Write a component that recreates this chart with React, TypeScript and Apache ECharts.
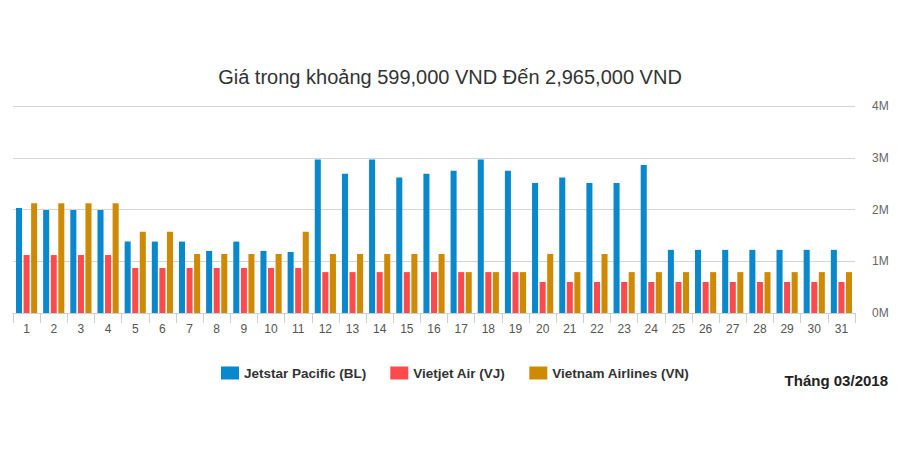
import React, { useEffect, useRef } from "react";
import * as echarts from "echarts";

const days = Array.from({ length: 31 }, (_, i) => String(i + 1));
const jetstar = [2030000, 1990000, 1990000, 1990000, 1380000, 1380000, 1380000, 1200000, 1380000, 1200000, 1180000, 2965000, 2690000, 2965000, 2620000, 2690000, 2750000, 2965000, 2750000, 2510000, 2620000, 2510000, 2510000, 2860000, 1220000, 1220000, 1220000, 1220000, 1220000, 1220000, 1220000];
const vietjet = [1120000, 1120000, 1120000, 1120000, 870000, 870000, 870000, 870000, 870000, 870000, 870000, 790000, 790000, 790000, 790000, 790000, 790000, 790000, 790000, 599000, 599000, 599000, 599000, 599000, 599000, 599000, 599000, 599000, 599000, 599000, 599000];
const vna = [2120000, 2120000, 2120000, 2120000, 1570000, 1570000, 1140000, 1140000, 1140000, 1140000, 1570000, 1140000, 1140000, 1140000, 1140000, 1140000, 790000, 790000, 790000, 1140000, 790000, 1140000, 790000, 790000, 790000, 790000, 790000, 790000, 790000, 790000, 790000];
const seriesNames = ["Jetstar Pacific (BL)", "Vietjet Air (VJ)", "Vietnam Airlines (VN)"];
const colors = ["#0a88cc", "#fd4a4c", "#cf8a04"];
const titleText = "Giá trong khoảng 599,000 VND Đến 2,965,000 VND";
const monthText = "Tháng 03/2018";

export default function App() {
  const ref = useRef<HTMLDivElement>(null);
  useEffect(() => {
    const chart = echarts.init(ref.current!, null, { renderer: "svg" });
    const font = "Arial, 'Liberation Sans', sans-serif";
    chart.setOption({
      animation: false,
      color: colors,
      textStyle: { fontFamily: font },
      title: {
        text: titleText,
        left: "center",
        top: 62,
        textStyle: { fontSize: 20, fontWeight: "normal", color: "#333", fontFamily: font },
      },
      legend: {
        data: seriesNames,
        left: 216,
        top: 361,
        itemWidth: 18,
        itemHeight: 13,
        itemGap: 24,
        icon: "rect",
        textStyle: { fontSize: 13.5, color: "#333", fontWeight: "bold", fontFamily: font },
      },
      graphic: [
        {
          type: "text",
          right: 12,
          top: 373,
          style: { text: monthText, fontSize: 15, fontWeight: "bold", fill: "#222", fontFamily: font },
        },
      ],
      grid: { left: 13, right: 45, top: 106, bottom: 158, containLabel: false },
      xAxis: {
        type: "category",
        data: days,
        axisLine: { lineStyle: { color: "#c8d0d8" } },
        axisTick: { show: true, length: 10, lineStyle: { color: "#c8d0d8" } },
        axisLabel: { color: "#555", fontSize: 12, margin: 10, interval: 0 },
      },
      yAxis: {
        type: "value",
        position: "right",
        min: 0,
        max: 4000000,
        interval: 1000000,
        axisLine: { show: false },
        axisTick: { show: false },
        axisLabel: {
          color: "#666",
          fontSize: 12,
          margin: 17,
          formatter: (v: number) => v / 1000000 + "M",
        },
        splitLine: { lineStyle: { color: "#d5d5d5", width: 1 } },
      },
      series: [
        { name: seriesNames[0], type: "bar", data: jetstar, barGap: "25%", barCategoryGap: "22%" },
        { name: seriesNames[1], type: "bar", data: vietjet, barGap: "25%", barCategoryGap: "22%" },
        { name: seriesNames[2], type: "bar", data: vna, barGap: "25%", barCategoryGap: "22%" },
      ],
    });
    return () => chart.dispose();
  }, []);
  return <div ref={ref} style={{ width: 900, height: 471, position: "absolute", left: 0, top: 0, background: "#fff" }} />;
}
